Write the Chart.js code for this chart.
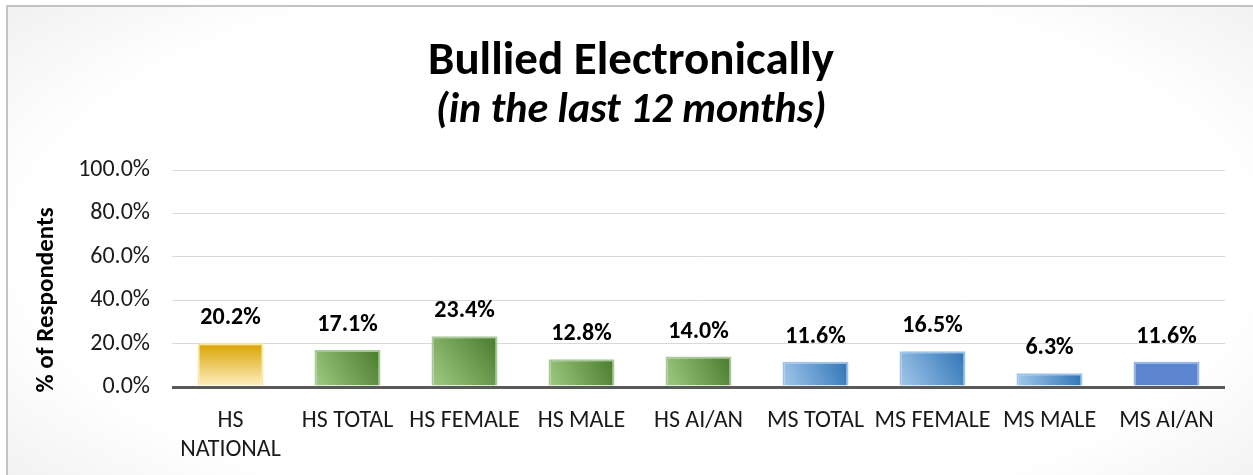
<!DOCTYPE html>
<html><head><meta charset="utf-8">
<script src="https://cdn.jsdelivr.net/npm/chart.js@4"></script>
<style>
html,body{margin:0;padding:0;width:1253px;height:475px;overflow:hidden;background:#fff}
#frame{position:absolute;left:6px;top:5px;width:1260px;height:480px;border-left:2px solid #c3c3c3;border-top:2px solid #c3c3c3;background:radial-gradient(ellipse 68% 80% at 50% 50%, #ffffff 72%, #efefef 100%);}
#c{position:absolute;left:0;top:0}
</style></head><body>
<div id="frame"></div>
<canvas id="c" width="1253" height="475"></canvas>
<script>
const chartTitle = "Bullied Electronically";
const chartSubtitle = "(in the last 12 months)";
const yAxisTitle = "% of Respondents";
const categories = [["HS","NATIONAL"],"HS TOTAL","HS FEMALE","HS MALE","HS AI/AN","MS TOTAL","MS FEMALE","MS MALE","MS AI/AN"];
const values = [20.2,17.1,23.4,12.8,14.0,11.6,16.5,6.3,11.6];
const yMin = 0, yMax = 100, yStep = 20;

const FONT = "Carlito, Lato, 'Open Sans', sans-serif";

function barFill(ctx){
  const chart = ctx.chart;
  if(!chart.chartArea || ctx.type !== 'data') return '#888';
  const i = ctx.dataIndex;
  const xs = chart.scales.x, ys = chart.scales.y;
  const cx = xs.getPixelForValue(i);
  const top = ys.getPixelForValue(ctx.parsed.y);
  const bot = ys.getPixelForValue(0);
  const half = 33;
  const c = chart.ctx;
  let g;
  if (i === 0) {
    g = c.createLinearGradient(0, top, 0, bot);
    g.addColorStop(0, '#d8a300'); g.addColorStop(1, '#fff1c4');
    return g;
  }
  if (i === 8) return '#5b86cf';
  g = c.createLinearGradient(cx - half, bot, cx + half, top);
  if (i <= 4) {
    g.addColorStop(0, '#9fcc84'); g.addColorStop(1, '#497b2c');
  } else {
    g.addColorStop(0, '#a3c8eb'); g.addColorStop(1, '#2f74b6');
  }
  return g;
}
function barBorder(ctx){
  const i = ctx.dataIndex;
  if (i === 0) return '#fde7a0';
  if (i <= 4) return '#a9c89a';
  if (i === 8) return '#93b3e6';
  return '#9ec3e8';
}

const labelPlugin = {
  id: 'valueLabels',
  afterDatasetsDraw(chart){
    const c = chart.ctx;
    const meta = chart.getDatasetMeta(0);
    c.save();
    c.font = "bold 24px " + FONT;
    c.fillStyle = '#000';
    c.textAlign = 'center';
    c.textBaseline = 'alphabetic';
    meta.data.forEach((el, i) => {
      c.fillText(values[i].toFixed(1) + '%', el.x, el.y - 19);
    });
    c.restore();
  }
};
const yTitlePlugin = {
  id: 'yTitle',
  afterDraw(chart){
    const c = chart.ctx;
    c.save();
    c.font = "bold 25px " + FONT;
    c.fillStyle = '#000';
    c.textAlign = 'center';
    c.textBaseline = 'middle';
    c.translate(47, 300);
    c.rotate(-Math.PI/2);
    c.fillText(yAxisTitle, 0, 0);
    c.restore();
  }
};

new Chart(document.getElementById('c'), {
  type: 'bar',
  data: {
    labels: categories,
    datasets: [{
      data: values,
      backgroundColor: barFill,
      borderColor: barBorder,
      borderWidth: 2,
      barPercentage: 0.564,
      categoryPercentage: 1.0
    }]
  },
  options: {
    responsive: false,
    animation: false,
    devicePixelRatio: 1,
    layout: { padding: { left: 37, right: 28, top: 0, bottom: 0 } },
    plugins: {
      legend: { display: false },
      tooltip: { enabled: false },
      title: {
        display: true, text: chartTitle, color: '#000',
        font: { family: FONT, size: 47, weight: 'bold', lineHeight: 1.0 },
        padding: { top: 39, bottom: 4 }
      },
      subtitle: {
        display: true, text: chartSubtitle, color: '#000',
        font: { family: FONT, size: 42, weight: 'bold', style: 'italic', lineHeight: 1.0 },
        padding: { top: 0, bottom: 38 }
      }
    },
    scales: {
      y: {
        min: yMin, max: yMax,
        afterFit(s){ s.width = 135; },
        ticks: {
          stepSize: yStep, padding: 22, color: '#1a1a1a',
          font: { family: FONT, size: 24 },
          callback: v => v.toFixed(1) + '%'
        },
        grid: {
          drawTicks: false,
          color: c => c.tick && c.tick.value === 0 ? '#595959' : '#d9d9d9',
          lineWidth: c => c.tick && c.tick.value === 0 ? 3 : 1
        },
        border: { display: false }
      },
      x: {
        afterFit(s){ s.height = 88; },
        ticks: {
          padding: 20, color: '#1a1a1a', maxRotation: 0, autoSkip: false,
          font: { family: FONT, size: 24, lineHeight: 1.2 }
        },
        grid: { display: false, drawTicks: false },
        border: { display: false }
      }
    }
  },
  plugins: [labelPlugin, yTitlePlugin]
});
</script>
</body></html>
